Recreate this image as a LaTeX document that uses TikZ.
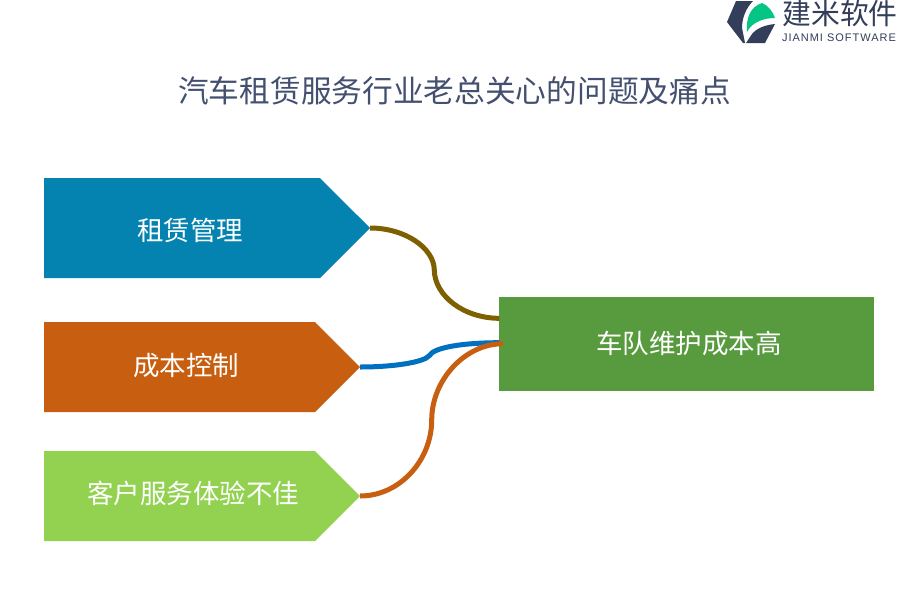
\documentclass[tikz,border=0pt]{standalone}
\usepackage{fontspec}
\usetikzlibrary{shapes.symbols}
\setmainfont{Liberation Sans}
\newfontfamily\cjk{Noto Sans CJK SC}
\newfontfamily\spaced[LetterSpace=9]{Liberation Sans}
\definecolor{ttl}{HTML}{44506F}
\definecolor{blueb}{HTML}{0483B1}
\definecolor{orangeb}{HTML}{C85F10}
\definecolor{greenb}{HTML}{93D250}
\definecolor{dgreen}{HTML}{589A3E}
\definecolor{brownl}{HTML}{7F6000}
\definecolor{bluel}{HTML}{0070C0}
\definecolor{logod}{HTML}{333E5A}
\definecolor{logog}{HTML}{04C584}
\tikzset{
  x=1pt,y=-1pt,
  arrowbox/.style={shape=signal,signal to=east,signal from=nowhere,signal pointer angle=90,draw=none,inner sep=0pt,outer sep=0pt},
  boxtext/.style={text=white,font=\cjk\fontsize{26.5}{30}\selectfont,inner sep=0pt},
  link/.style={line width=5pt,line cap=butt}
}
\begin{document}
\begin{tikzpicture}
\useasboundingbox (0,0) rectangle (900,600);
\fill[white] (0,0) rectangle (900,600);
% title
\node[inner sep=0pt,text=ttl,font=\cjk\fontsize{30.7}{34}\selectfont] (title) at (454.5,90.5) {汽车租赁服务行业老总关心的问题及痛点};
% boxes
\node[arrowbox,fill=blueb,minimum width=326pt,minimum height=100pt] (a) at (182,228) {};
\node[arrowbox,fill=orangeb,minimum width=316pt,minimum height=90pt] (b) at (179.5,367) {};
\node[arrowbox,fill=greenb,minimum width=316pt,minimum height=90pt] (c) at (179.5,496) {};
\node[boxtext] (at) at (190,230.3) {租赁管理};
\node[boxtext] (bt) at (186,365.3) {成本控制};
\node[boxtext] (ct) at (193,493.3) {客户服务体验不佳};
\node[fill=dgreen,minimum width=375pt,minimum height=94pt,inner sep=0pt,outer sep=0pt] (d) at (686.5,344) {};
\node[boxtext] (dt) at (689,343.3) {车队维护成本高};
\coordinate (dl) at (499.3,318.3);
\coordinate (dm) at (499.3,342.7);
\coordinate (dr) at (503,343.7);
% connectors
\draw[link,brownl] (a.east) .. controls (405,228) and (434,248) .. (434.3,270) .. controls (434.6,296) and (464,318.3) .. (dl);
\draw[link,bluel] (b.east) .. controls (395,367) and (424,362) .. (429.3,355.7) .. controls (434,347) and (465,342.7) .. (dm);
\draw[link,orangeb] (c.east) .. controls (400,496) and (431.7,460) .. (431.7,420) .. controls (431.7,380) and (465,343.7) .. (dr);
% logo
\fill[logod] (736,1) -- (753,1) .. controls (746,8) and (742,18) .. (742,28) -- (745,43) -- (743,43) -- (727,22) -- cycle;
\fill[logog] (747,32) .. controls (746,18) and (750,7) .. (762,3) .. controls (768,5) and (773,12) .. (775,18) .. controls (764,18) and (752,22) .. (747,32) -- cycle;
\fill[logod] (775,24) -- (765,43) -- (746,43) -- (752,34) .. controls (757,28) and (765,25) .. (775,24) -- cycle;
\node[inner sep=0pt,text=logod,font=\cjk\fontsize{28.8}{30}\selectfont] (lg1) at (840,14) {建米软件};
\node[inner sep=0pt,text=logod,font=\spaced\fontsize{11}{12}\selectfont] (lg2) at (839,38) {JIANMI SOFTWARE};
\end{tikzpicture}
\end{document}
